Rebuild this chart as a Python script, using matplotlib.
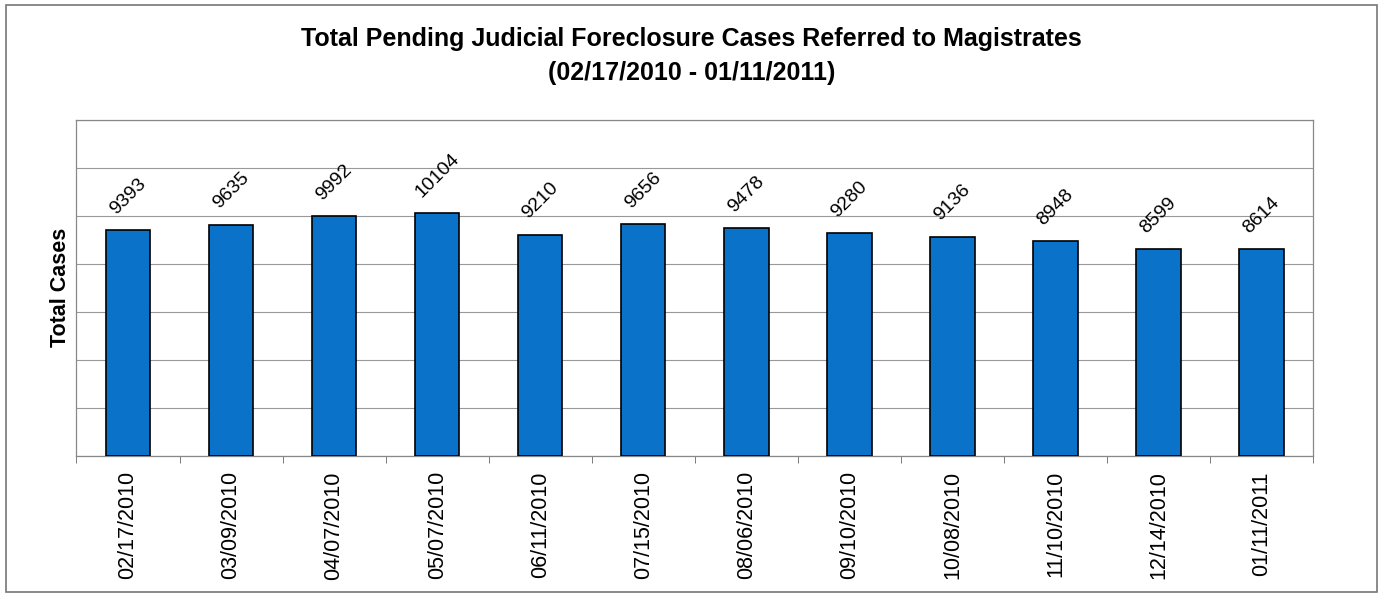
import matplotlib.pyplot as plt
import numpy as np
from matplotlib.patches import Rectangle

dates = ["02/17/2010", "03/09/2010", "04/07/2010", "05/07/2010", "06/11/2010", "07/15/2010",
         "08/06/2010", "09/10/2010", "10/08/2010", "11/10/2010", "12/14/2010", "01/11/2011"]
cases = [9393, 9635, 9992, 10104, 9210, 9656, 9478, 9280, 9136, 8948, 8599, 8614]

plt.rcParams['font.family'] = ['Liberation Sans', 'DejaVu Sans']

fig = plt.figure(figsize=(13.83, 5.96), dpi=100)
ax = fig.add_axes([0.0553, 0.235, 0.8942, 0.564])

x = np.arange(len(dates))
ax.bar(x, cases, width=0.43, color='#0A72C9', edgecolor='black', linewidth=1.2, zorder=3)

for xi, v in zip(x, cases):
    ax.annotate(str(v), (xi, v), xytext=(0, 9), textcoords='offset points',
                ha='center', va='bottom', rotation=45, fontsize=14)

ax.set_xlim(-0.5, len(dates) - 0.5)
ax.set_ylim(0, 14000)
ax.set_yticks(np.arange(0, 14001, 2000))
ax.yaxis.grid(True, color='#999999', linewidth=0.8, zorder=0)
ax.tick_params(axis='y', length=0, labelleft=False)

ax.set_xticks(x)
ax.set_xticklabels(dates, rotation=90, fontsize=15.5)
ax.set_xticks(np.arange(-0.5, len(dates), 1), minor=True)
ax.tick_params(axis='x', which='major', length=0, pad=11)
ax.tick_params(axis='x', which='minor', length=5, color='#666666')

for s in ax.spines.values():
    s.set_color('#888888')
    s.set_linewidth(0.9)

ax.set_ylabel("Total Cases", fontsize=15.5, fontweight='bold', labelpad=4)

fig.text(0.5, 0.935, "Total Pending Judicial Foreclosure Cases Referred to Magistrates",
         ha='center', va='center', fontsize=18, fontweight='bold')
fig.text(0.5, 0.877, "(02/17/2010 - 01/11/2011)",
         ha='center', va='center', fontsize=18, fontweight='bold')

fig.patches.append(Rectangle((0.004, 0.006), 0.992, 0.986, transform=fig.transFigure,
                             fill=False, edgecolor='#777777', linewidth=1.2))

fig.savefig("out.png", dpi=100)
